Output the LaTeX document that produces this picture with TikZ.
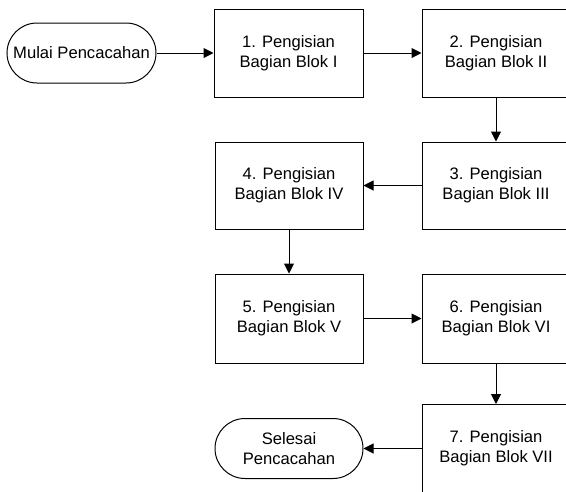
\documentclass[tikz,border=0pt]{standalone}
\usepackage{fontspec}
\setmainfont{Liberation Sans}
\usetikzlibrary{arrows.meta}
\begin{document}
\begin{tikzpicture}[x=1pt,y=-1pt,
  every node/.style={font=\fontsize{16.6pt}{20pt}\selectfont, align=center, inner sep=0pt},
  stepbox/.style={draw, line width=1pt, minimum width=148pt, minimum height=88pt},
  termbox/.style={draw, line width=1pt, rounded corners=30pt, minimum width=149pt, minimum height=60pt},
  conn/.style={draw, line width=1pt, -{Triangle[length=10pt,width=10pt]}}]
\useasboundingbox (0,0) rectangle (566,491);
\clip (0,0) rectangle (566,491);
\node[termbox] (mulai) at (81.5,53) {Mulai Pencacahan};
\node[stepbox, minimum width=149pt] (b1) at (288.5,53) {1. Pengisian\\Bagian Blok I};
\node[stepbox] (b2) at (496,53) {2. Pengisian\\Bagian Blok II};
\node[stepbox, minimum height=87pt] (b3) at (496,185.5) {3. Pengisian\\Bagian Blok III};
\node[stepbox, minimum height=87pt] (b4) at (289,185.5) {4. Pengisian\\Bagian Blok IV};
\node[stepbox, minimum height=89pt] (b5) at (289,318.5) {5. Pengisian\\Bagian Blok V};
\node[stepbox, minimum height=89pt] (b6) at (496,318.5) {6. Pengisian\\Bagian Blok VI};
\node[stepbox] (b7) at (496,448.5) {7. Pengisian\\Bagian Blok VII};
\node[termbox, minimum width=148pt] (selesai) at (289,448.5) {Selesai\\Pencacahan};
\path[conn] (mulai) -- (b1);
\path[conn] (b1) -- (b2);
\path[conn] (b2) -- (b3);
\path[conn] (b3) -- (b4);
\path[conn] (b4) -- (b5);
\path[conn] (b5) -- (b6);
\path[conn] (b6) -- (b7);
\path[conn] (b7) -- (selesai);
\end{tikzpicture}
\end{document}
